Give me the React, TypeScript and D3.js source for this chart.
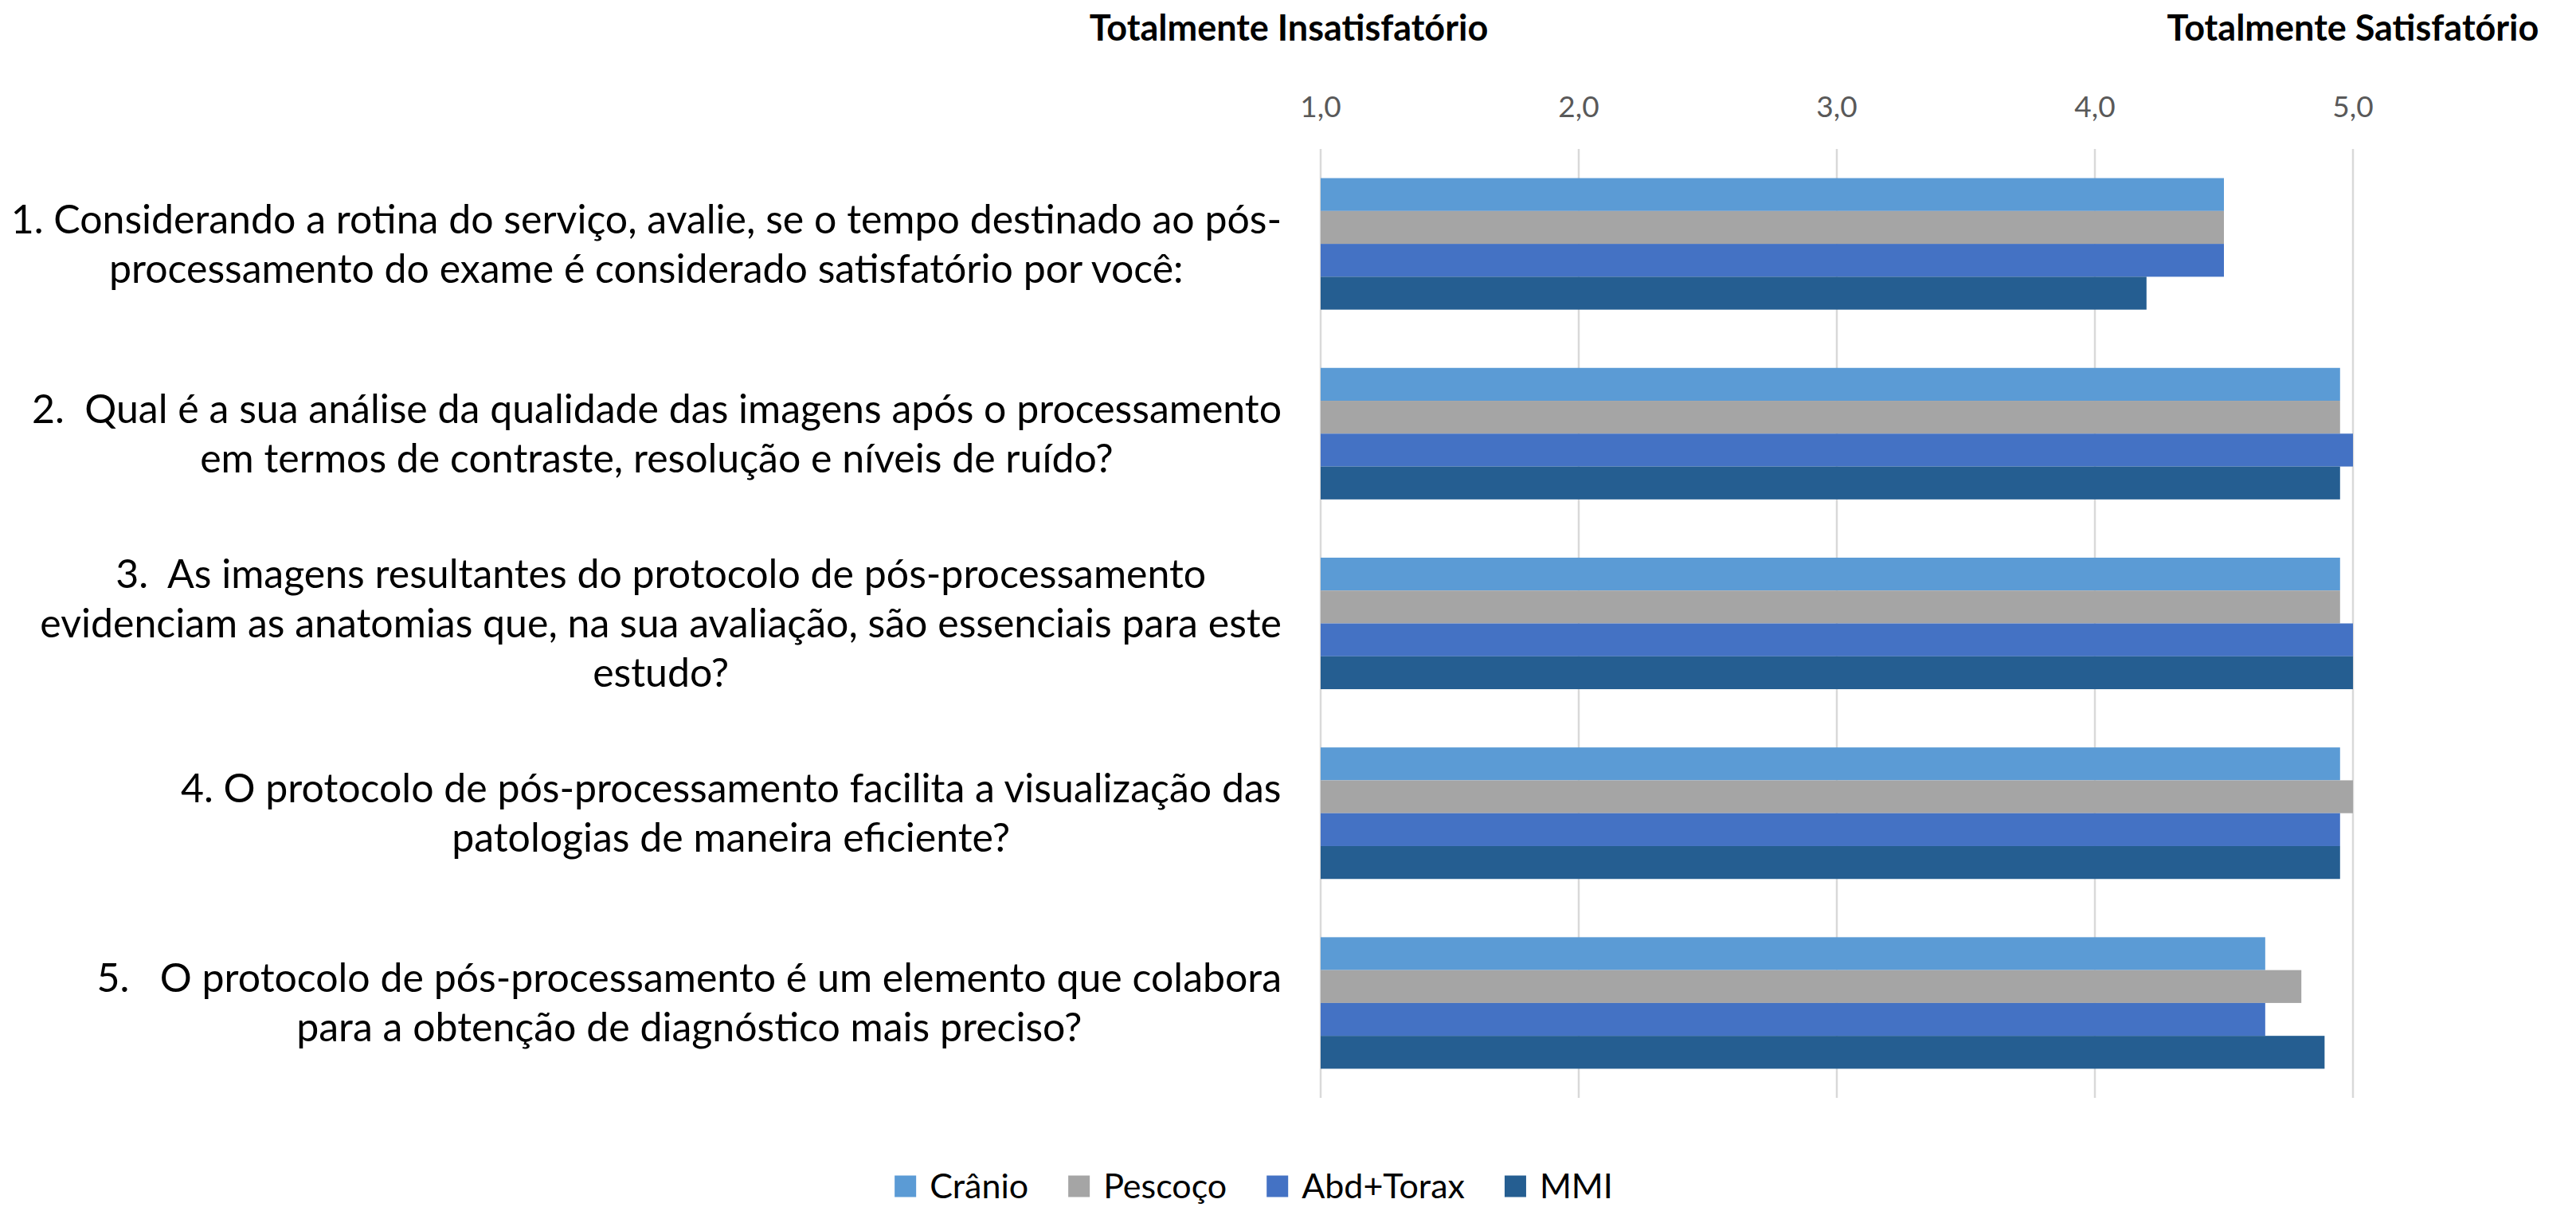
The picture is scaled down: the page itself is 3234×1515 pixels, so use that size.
import React from "react";
import * as d3 from "d3";

const categoryLines: string[][] = [
  ["1. Considerando a rotina do serviço, avalie, se o tempo destinado ao pós-", "processamento do exame é considerado satisfatório por você:"],
  ["2.  Qual é a sua análise da qualidade das imagens após o processamento", "em termos de contraste, resolução e níveis de ruído?"],
  ["3.  As imagens resultantes do protocolo de pós-processamento", "evidenciam as anatomias que, na sua avaliação, são essenciais para este", "estudo?"],
  ["4. O protocolo de pós-processamento facilita a visualização das", "patologias de maneira eficiente?"],
  ["5.   O protocolo de pós-processamento é um elemento que colabora", "para a obtenção de diagnóstico mais preciso?"],
];

const seriesNames = ["Crânio", "Pescoço", "Abd+Torax", "MMI"];
const cranio = [4.5, 4.95, 4.95, 4.95, 4.66];
const pescoco = [4.5, 4.95, 4.95, 5.0, 4.8];
const abdTorax = [4.5, 5.0, 5.0, 4.95, 4.66];
const mmi = [4.2, 4.95, 5.0, 4.95, 4.89];
const seriesValues = [cranio, pescoco, abdTorax, mmi];
const seriesColors = ["#5B9BD5", "#A5A5A5", "#4472C4", "#255E91"];

const xTicks = [1, 2, 3, 4, 5];
const axisTitleLeft = "Totalmente Insatisfatório";
const axisTitleRight = "Totalmente Satisfatório";

const FONT = "Lato, 'Open Sans', sans-serif";
const CAT_SIZE = 50;
const TITLE_SIZE = 45;
const TICK_SIZE = 37;
const LEGEND_SIZE = 43;

let _ctx: CanvasRenderingContext2D | null = null;
function measure(text: string, size: number, weight = "normal"): number {
  if (!_ctx) _ctx = document.createElement("canvas").getContext("2d");
  if (!_ctx) return text.length * size * 0.5;
  _ctx.font = `${weight} ${size}px Lato`;
  return _ctx.measureText(text).width;
}

const ptBR = d3.formatLocale({ decimal: ",", thousands: ".", grouping: [3], currency: ["R$", ""] });
const fmt = ptBR.format(".1f");

export default function App() {
  const W = 3234;
  const H = 1515;
  const plotLeft = 1658;
  const plotRight = 2954;
  const plotTop = 187;
  const plotBottom = 1378;

  const x = d3.scaleLinear().domain([1, 5]).range([plotLeft, plotRight]);
  const y = d3
    .scaleBand<number>()
    .domain(categoryLines.map((_, i) => i))
    .range([plotTop, plotBottom])
    .paddingInner(0.307)
    .paddingOuter(0.1535);
  const ys = d3
    .scaleBand<number>()
    .domain(seriesNames.map((_, i) => i))
    .range([0, y.bandwidth()])
    .padding(0);

  const labelRight = 1609;
  const lineH = 62;

  // legend layout
  const sq = 27;
  const sqGap = 17;
  const itemGap = 50;
  const legendWidths = seriesNames.map((s) => sq + sqGap + measure(s, LEGEND_SIZE));
  const legendTotal = d3.sum(legendWidths) + itemGap * (seriesNames.length - 1);
  const legendCenter = 1574;
  let lx = legendCenter - legendTotal / 2;
  const legendX = legendWidths.map((w) => {
    const v = lx;
    lx += w + itemGap;
    return v;
  });
  const legendY = 1489;

  return (
    <svg
      width={W}
      height={H}
      style={{ position: "absolute", left: 0, top: 0, background: "#fff", display: "block" }}
      fontFamily={FONT}
    >
      <rect x={0} y={0} width={W} height={H} fill="#fff" />
      {/* gridlines */}
      {xTicks.map((t) => (
        <line key={"g" + t} x1={x(t)} x2={x(t)} y1={plotTop} y2={plotBottom} stroke="#D9D9D9" strokeWidth={2.5} />
      ))}
      {/* tick labels */}
      {xTicks.map((t) => (
        <text key={"t" + t} x={x(t)} y={147} fontSize={TICK_SIZE} fill="#595959" textAnchor="middle">
          {fmt(t)}
        </text>
      ))}
      {/* axis titles */}
      <text x={1618} y={51} fontSize={TITLE_SIZE} fontWeight="bold" textAnchor="middle" fill="#000">
        {axisTitleLeft}
      </text>
      <text x={x(5)} y={51} fontSize={TITLE_SIZE} fontWeight="bold" textAnchor="middle" fill="#000">
        {axisTitleRight}
      </text>
      {/* bars */}
      {categoryLines.map((_, ci) => (
        <g key={"c" + ci}>
          {seriesValues.map((vals, si) => (
            <rect
              key={si}
              x={x(1)}
              y={(y(ci) as number) + (ys(si) as number)}
              width={x(vals[ci]) - x(1)}
              height={ys.bandwidth()}
              fill={seriesColors[si]}
            />
          ))}
        </g>
      ))}
      {/* category labels */}
      {categoryLines.map((lines, ci) => {
        const maxW = d3.max(lines, (l) => measure(l, CAT_SIZE)) || 0;
        const cx = labelRight - maxW / 2;
        const cy = (y(ci) as number) + y.bandwidth() / 2;
        const n = lines.length;
        return (
          <text key={"l" + ci} fontSize={CAT_SIZE} fill="#000" textAnchor="middle" style={{ whiteSpace: "pre" }}>
            {lines.map((l, li) => (
              <tspan key={li} x={cx} y={cy + (li - (n - 1) / 2) * lineH + CAT_SIZE * 0.35}>
                {l}
              </tspan>
            ))}
          </text>
        );
      })}
      {/* legend */}
      {seriesNames.map((s, i) => (
        <g key={"lg" + i}>
          <rect x={legendX[i]} y={legendY - sq / 2} width={sq} height={sq} fill={seriesColors[i]} />
          <text x={legendX[i] + sq + sqGap} y={legendY + LEGEND_SIZE * 0.35} fontSize={LEGEND_SIZE} fill="#000">
            {s}
          </text>
        </g>
      ))}
    </svg>
  );
}
